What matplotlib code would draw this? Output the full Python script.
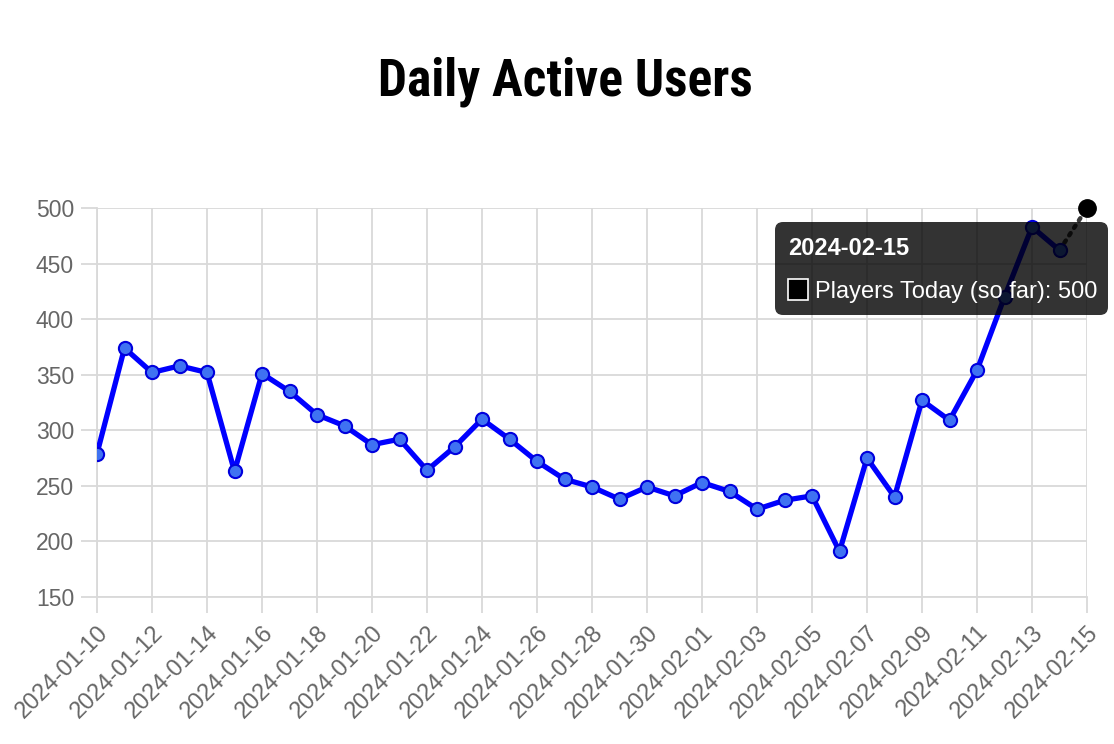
import numpy as np
import pandas as pd
import matplotlib
matplotlib.use("Agg")
import matplotlib.pyplot as plt
from matplotlib import font_manager
from matplotlib.patches import FancyBboxPatch, Rectangle

# data
dates = pd.date_range("2024-01-10", "2024-02-15", freq="D")
labels = [d.strftime("%Y-%m-%d") for d in dates]

players = [279, 374, 352, 358, 352, 263, 351, 335, 314, 304, 287, 292,
           264, 285, 310, 292, 272, 256, 249, 238, 249, 241,
           253, 245, 229, 237, 241, 191, 275, 240, 327, 309, 354, 420,
           483, 462]
today_label = "Players Today (so far)"
today_value = 500

y_ticks = [150, 200, 250, 300, 350, 400, 450, 500]


def pick_font(names, default="DejaVu Sans"):
    for n in names:
        try:
            font_manager.findfont(n, fallback_to_default=False)
            return n
        except Exception:
            pass
    return default


base_font = pick_font(["Liberation Sans", "Arial", "DejaVu Sans"])
title_font = pick_font(["Liberation Sans Narrow", "Roboto Condensed", "Lato"])
plt.rcParams["font.family"] = [base_font, "DejaVu Sans"]

W, H, DPI = 1114, 744, 100
fig = plt.figure(figsize=(W / DPI, H / DPI), dpi=DPI)
# plot area in pixels: x 97..1087, y 208..597
ax = fig.add_axes([97 / W, 1 - 597 / H, 990 / W, 389 / H])

x = np.arange(len(labels))
ax.plot(x[:len(players)], players, color="#0000ff", lw=3.8, zorder=3,
        marker="o", ms=9.5, mfc="#3f72f2", mec="#0000dd", mew=1.5)

# today's segment (dotted) from yesterday to today
ax.plot(x[len(players) - 1:], [players[-1], today_value], color="#3a3a3a",
        lw=3.2, ls=(0, (0.6, 1.4)), dash_capstyle="round", zorder=2,
        clip_on=False)
ax.plot(x[-1], today_value, "o", color="black", ms=12.5, zorder=4,
        clip_on=False)

grid_c = "#d9d9d9"
ax.set_xlim(0, len(labels) - 1)
ax.set_ylim(150, 500)
ax.set_yticks(y_ticks)
ax.set_xticks(x[::2])
ax.set_xticklabels(labels[::2], rotation=45, ha="right",
                   rotation_mode="anchor")
ax.tick_params(axis="both", length=11.5, width=1.3, color=grid_c,
               labelcolor="#666666", labelsize=16.5)
ax.tick_params(axis="x", labelsize=17, pad=6)
ax.tick_params(axis="y", pad=5)
ax.grid(True, color=grid_c, lw=1.3)
ax.set_axisbelow(True)
for s in ["top", "right"]:
    ax.spines[s].set_visible(False)
for s in ["left", "bottom"]:
    ax.spines[s].set_color(grid_c)
    ax.spines[s].set_linewidth(1.3)

fig.text(565 / W, 1 - 82 / H, "Daily Active Users", ha="center",
         va="center", fontsize=37, fontweight="bold", family=title_font)

# hover tooltip (pixel positions -> inches)
def px(xp, yp):
    return xp / DPI, (H - yp) / DPI

tx, ty = px(775, 315)
tip = FancyBboxPatch((tx, ty), 333 / DPI, 93 / DPI,
                     boxstyle="round,pad=0,rounding_size=0.08",
                     transform=fig.dpi_scale_trans, fc="black", ec="none",
                     alpha=0.8, zorder=10)
fig.patches.append(tip)
fig.text(*px(788, 255), labels[-1], transform=fig.dpi_scale_trans,
         color="white", fontsize=17, fontweight="bold", zorder=11)
sx, sy = px(788, 300)
sq = Rectangle((sx, sy), 20 / DPI, 21 / DPI, transform=fig.dpi_scale_trans,
               fc="black", ec="white", lw=1.2, zorder=11)
fig.patches.append(sq)
fig.text(*px(815, 298), f"{today_label}: {today_value}",
         transform=fig.dpi_scale_trans, color="white", fontsize=17, zorder=11)

fig.savefig("out.png", dpi=DPI)
